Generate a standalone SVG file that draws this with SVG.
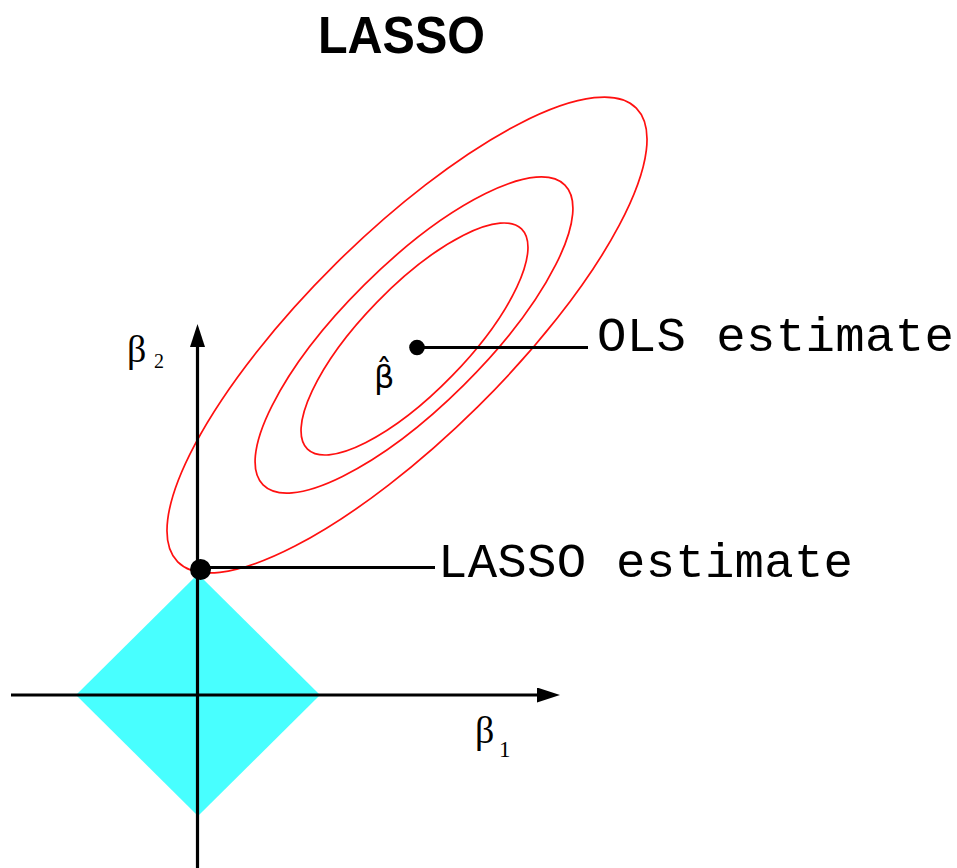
<svg xmlns="http://www.w3.org/2000/svg" width="957" height="868" viewBox="0 0 957 868">
  <style>
    .axis { stroke: #000; stroke-width: 3.2; fill: none; }
    .leader { stroke: #000; stroke-width: 3.2; fill: none; }
    .contour { stroke: #ff1010; stroke-width: 1.7; fill: none; }
    .mono { font-family: "Liberation Mono", "Courier New", monospace; font-size: 49px; fill: #000; }
    .greek { font-family: "Liberation Serif", "Times New Roman", serif; fill: #000; }
    .title { font-family: "Liberation Sans", Arial, sans-serif; font-weight: bold; font-size: 52px; fill: #000; }
  </style>
  <defs>
    <marker id="arrow" markerUnits="userSpaceOnUse" markerWidth="24" markerHeight="16" refX="2" refY="7.5" orient="auto">
      <path d="M0,0 L23,7.5 L0,15 z" fill="#000"/>
    </marker>
  </defs>
  <rect width="957" height="868" fill="#fff"/>

  <g id="title">
    <text class="title" x="318" y="53" textLength="167" lengthAdjust="spacingAndGlyphs">LASSO</text>
  </g>

  <g id="constraint-region">
    <polygon points="198,574 320,695 198,816 76,695" fill="#48ffff"/>
  </g>

  <g id="contours">
    <ellipse id="contour-outer" class="contour" cx="407" cy="335" rx="322.6" ry="100.8" transform="rotate(-44.7 407 335)"/>
    <ellipse id="contour-middle" class="contour" cx="414" cy="335" rx="212.7" ry="70.6" transform="rotate(-44.8 414 335)"/>
    <ellipse id="contour-inner" class="contour" cx="414.5" cy="339" rx="153.5" ry="52.6" transform="rotate(-45.8 414.5 339)"/>
  </g>

  <g id="connectors">
    <line id="axis-beta2" class="axis" x1="197.5" y1="868" x2="197.5" y2="345" marker-end="url(#arrow)"/>
    <line id="axis-beta1" class="axis" x1="11" y1="695" x2="539" y2="695" marker-end="url(#arrow)"/>
    <line id="leader-ols" class="leader" x1="417" y1="347.5" x2="588" y2="347.5"/>
    <line id="leader-lasso" class="leader" x1="200.5" y1="567.5" x2="435" y2="567.5"/>
  </g>

  <g id="ols-point">
    <circle cx="417" cy="347.5" r="7.8" fill="#000"/>
    <text x="374" y="388" font-size="32" fill="#000" style="font-family:'DejaVu Sans',sans-serif">β̂</text>
  </g>

  <g id="lasso-point">
    <circle cx="200.5" cy="569.5" r="10.5" fill="#000"/>
  </g>

  <g id="label-ols">
    <text class="mono" x="597" y="351" textLength="357" lengthAdjust="spacing">OLS estimate</text>
  </g>
  <g id="label-lasso">
    <text class="mono" x="438" y="577" textLength="415" lengthAdjust="spacing">LASSO estimate</text>
  </g>

  <g id="label-beta2">
    <text class="greek" x="127" y="362" font-size="38">β</text>
    <text class="greek" x="154" y="368" font-size="20">2</text>
  </g>
  <g id="label-beta1">
    <text class="greek" x="475" y="743" font-size="38">β</text>
    <text class="greek" x="499" y="757" font-size="23">1</text>
  </g>
</svg>
